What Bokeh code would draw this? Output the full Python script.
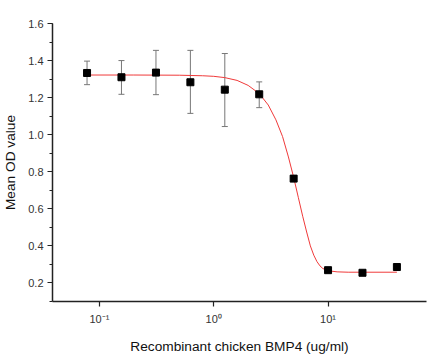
from bokeh.plotting import figure
from bokeh.models import (Range1d, FixedTicker, SingleIntervalTicker, PrintfTickFormatter,
                          Whisker, TeeHead, ColumnDataSource)
from bokeh.embed import file_html
from bokeh.resources import INLINE

# Data
conc = [0.078, 0.156, 0.3125, 0.625, 1.25, 2.5, 5.0, 10.0, 20.0, 40.0]
od_mean = [1.333, 1.310, 1.335, 1.283, 1.243, 1.218, 0.763, 0.269, 0.255, 0.286]
od_upper = [1.397, 1.400, 1.455, 1.455, 1.438, 1.285, 0.778, 0.275, 0.260, 0.290]
od_lower = [1.270, 1.218, 1.216, 1.115, 1.044, 1.146, 0.748, 0.263, 0.250, 0.282]

# Fitted curve
fit_x = [0.078, 0.2, 0.5, 0.8, 1.0, 1.25, 1.6, 2.0, 2.5, 3.0, 3.5, 4.0, 4.5, 5.0,
         5.5, 6.0, 6.5, 7.0, 7.5, 8.0, 8.5, 9.0, 10.0, 12.0, 15.0, 20.0, 40.0]
fit_y = [1.322, 1.322, 1.321, 1.318, 1.315, 1.308, 1.293, 1.266, 1.222, 1.160, 1.080,
         0.990, 0.880, 0.770, 0.660, 0.560, 0.475, 0.400, 0.350, 0.315, 0.292, 0.278,
         0.266, 0.260, 0.258, 0.258, 0.258]

x_ticks = [0.1, 1, 10]
x_tick_labels = ["10\u207b\u00b9", "10\u2070", "10\u00b9"]

FONT = "Liberation Sans"

p = figure(width=435, height=357, x_axis_type="log", output_backend="svg",
           toolbar_location=None, x_range=Range1d(0.0389, 72.6), y_range=Range1d(0.1, 1.6),
           min_border_left=47, min_border_right=9, min_border_top=23, min_border_bottom=56)
p.outline_line_color = None
p.grid.visible = False
p.background_fill_color = "white"
p.border_fill_color = "white"

src = ColumnDataSource(dict(x=conc, y=od_mean, upper=od_upper, lower=od_lower))
w = Whisker(base="x", upper="upper", lower="lower", source=src, dimension="height",
            line_color="#777777", line_width=1,
            upper_head=TeeHead(size=6, line_color="#777777", line_width=1),
            lower_head=TeeHead(size=6, line_color="#777777", line_width=1))
p.add_layout(w)

p.line(fit_x, fit_y, line_color="#f03a3a", line_width=1)
p.scatter(conc, od_mean, marker="square", size=7, fill_color="black", line_color="black")

for ax in (p.xaxis[0], p.yaxis[0]):
    ax.axis_line_color = "#222222"
    ax.axis_line_width = 1.5
    ax.major_tick_line_color = "#222222"
    ax.minor_tick_line_color = "#222222"
    ax.major_tick_line_width = 1.2
    ax.minor_tick_line_width = 1
    ax.major_tick_out = 5
    ax.major_tick_in = 0
    ax.minor_tick_out = 3
    ax.minor_tick_in = 0
    ax.major_label_text_font = FONT
    ax.major_label_text_font_size = "11px"
    ax.major_label_text_color = "#333333"
    ax.axis_label_text_font = FONT
    ax.axis_label_text_font_size = "13.7px"
    ax.axis_label_text_font_style = "normal"
    ax.axis_label_text_color = "#111111"

p.xaxis.ticker = FixedTicker(ticks=x_ticks, minor_ticks=[])
p.xaxis.major_label_overrides = {t: l for t, l in zip(x_ticks, x_tick_labels)}
p.xaxis.axis_label = "Recombinant chicken BMP4 (ug/ml)"
p.xaxis.major_label_standoff = 6
p.xaxis.axis_label_standoff = 11

p.yaxis.ticker = SingleIntervalTicker(interval=0.2, num_minor_ticks=2)
p.yaxis.formatter = PrintfTickFormatter(format="%.1f")
p.yaxis.axis_label = "Mean OD value"
p.yaxis.major_label_standoff = 4
p.yaxis.axis_label_standoff = 7

open("out.html", "w").write(file_html(p, INLINE))
